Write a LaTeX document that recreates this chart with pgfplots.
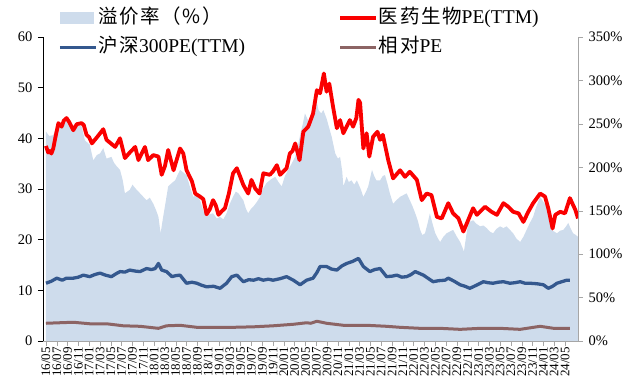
\documentclass[border=0pt]{standalone}
\usepackage{pgfplots}
\pgfplotsset{compat=1.18}
\usepackage{fontspec}
\setmainfont{Liberation Serif}
\newfontfamily\cjk[LetterSpace=8]{Noto Sans CJK SC}

\definecolor{premium}{RGB}{206,220,236}
\definecolor{medred}{RGB}{250,0,0}
\definecolor{hsblue}{RGB}{52,88,142}
\definecolor{relbrown}{RGB}{140,100,100}
\definecolor{axisgray}{RGB}{166,166,166}

\begin{document}
\begin{tikzpicture}
\path[use as bounding box] (-43bp,-44bp) rectangle (596bp,341bp);
\pgfplotsset{
  every axis/.append style={
    scale only axis, width=535bp, height=304bp,
    at={(0,0)}, anchor=south west,
    xmin=-0.55, xmax=98.4,
    tick align=outside, major tick length=5bp,
    clip=true,
  },
  legend block/.style={
    legend style={draw=none, fill=none, anchor=north west,
      at={(#1,1.102)}, legend cell align=left,
      font=\fontsize{19.5bp}{23bp}\selectfont,
      nodes={inner sep=1bp, text height=14bp, text depth=4bp},
      row sep=9bp},
  },
  line sample/.style={legend image code/.code={\draw[##1] (0bp,0bp) -- (36bp,0bp);}},
}

% premium rate, right-hand percentage axis
\begin{axis}[
  axis y line*=right, axis x line*=bottom,
  axis on top,
  ymin=0, ymax=350,
  ytick={0,50,...,350},
  yticklabels={0\%,50\%,100\%,150\%,200\%,250\%,300\%,350\%},
  yticklabel style={font=\fontsize{14.5bp}{16bp}\selectfont, xshift=2bp},
  xtick={0,2,...,96},
  xticklabels={16/05,16/07,16/09,16/11,17/01,17/03,17/05,17/07,17/09,17/11,18/01,18/03,18/05,18/07,18/09,18/11,19/01,19/03,19/05,19/07,19/09,19/11,20/01,20/03,20/05,20/07,20/09,20/11,21/01,21/03,21/05,21/07,21/09,21/11,22/01,22/03,22/05,22/07,22/09,22/11,23/01,23/03,23/05,23/07,23/09,23/11,24/01,24/03,24/05},
  xticklabel style={rotate=90, anchor=east, font=\fontsize{13bp}{14bp}\selectfont, inner sep=1bp},
  x axis line style={axisgray}, y axis line style={axisgray},
  every tick/.style={axisgray},
  legend block=0.0224,
]
\addplot[fill=premium, draw=none,
  legend image code/.code={\fill[premium] (0bp,-6bp) rectangle (34bp,6bp);}]
coordinates {
(0,241) (0.6,236) (1.35,237) (1.8,244) (2.3,249) (3.0,246) (3.8,254) (4.4,250) (5.05,245) (5.8,249) (6.6,247) (7.2,231)
(8.1,226) (8.75,208) (9.4,214) (10.0,216) (10.6,222) (11.2,210) (12.1,212) (12.6,205) (13.1,201) (13.7,197)
(14.2,185) (14.6,170) (15.5,174) (16.0,180) (16.5,176) (17.4,170) (18.0,166) (18.6,162) (19.2,165) (19.85,158)
(20.4,150) (20.8,143) (21.2,124) (21.6,140) (22.0,155) (22.6,178) (23.3,182) (23.9,185) (24.4,192) (24.8,197)
(25.4,194) (26.0,191) (26.6,178) (27.25,166) (27.9,168) (28.5,162) (29.1,150) (29.7,143) (30.3,146) (30.9,147)
(31.6,141) (32.2,143) (32.8,140) (33.4,147) (34.0,158) (34.6,166) (35.1,172) (35.6,170) (36.5,162) (37.0,152)
(37.4,147) (37.9,152) (38.4,155) (39.0,160) (39.6,166) (40.2,176) (40.8,182) (41.6,186) (42.4,189) (43.0,183)
(43.6,178) (44.2,190) (44.8,197) (45.5,205) (46.1,212) (46.6,225) (47.0,237) (47.5,250) (47.9,262) (48.4,255)
(48.8,252) (49.3,270) (49.8,283) (50.4,266) (50.9,262) (51.3,266) (51.9,256) (52.4,245) (52.85,235) (53.5,216)
(54.0,210) (54.4,212) (54.8,195) (55.0,178) (55.6,189) (56.0,183) (56.5,185) (57.0,180) (57.5,185) (58.2,175)
(58.7,166) (59.2,172) (59.6,178) (60.3,197) (60.7,190) (61.1,185) (61.8,185) (62.3,190) (62.7,191) (63.2,180)
(63.6,170) (64.2,158) (64.8,162) (65.5,166) (66.1,168) (66.7,170) (67.3,162) (67.8,155) (68.3,147) (68.8,138)
(69.2,128) (69.6,122) (70.1,124) (70.6,136) (71.0,147) (71.5,135) (72.0,124) (72.5,118) (72.9,114) (73.5,120)
(74.1,124) (74.7,126) (75.3,128) (76.0,120) (76.6,114) (77.0,108) (77.3,103) (77.7,120) (78.1,136) (78.6,138)
(79.0,139) (79.6,135) (80.3,132) (80.9,133) (81.5,130) (82.1,126) (82.7,124) (83.3,129) (84.0,132) (84.6,130)
(85.2,132) (85.8,128) (86.4,124) (87.0,118) (87.7,114) (88.3,120) (88.9,128) (89.5,136) (90.1,143) (90.7,155)
(91.4,166) (92.0,160) (92.6,155) (93.1,140) (93.5,128) (94.0,126) (94.5,124) (95.1,127) (95.7,128) (96.2,132)
(96.6,136) (97.0,130) (97.5,124) (98.0,122) (98.4,120)
} \closedcycle;
\addlegendentry{{\cjk 溢价率（\%）}}
\addlegendimage{line sample, hsblue, line width=3.3bp}
\addlegendentry{{\cjk 沪深}300PE(TTM)}
\end{axis}

% valuation lines, left-hand axis
\begin{axis}[
  axis y line*=left, axis x line=none,
  ymin=0, ymax=60,
  ytick={0,10,...,60},
  yticklabels={0,10,20,30,40,50,60},
  yticklabel style={font=\fontsize{14.5bp}{16bp}\selectfont, xshift=-2bp},
  y axis line style={black, line width=0.8bp},
  every tick/.style={black, line width=0.8bp},
  legend block=0.5458,
]
\addplot[medred, line width=3.8bp, line join=round, line sample] coordinates {
(0,38.5) (0.4,37.2) (0.7,37.5) (1.0,37.0) (1.35,38.0) (1.8,40.5) (2.3,43.0) (2.9,42.3) (3.3,43.5) (3.8,44.0)
(4.3,43.2) (5.05,41.6) (5.7,42.8) (6.6,43.0) (7.0,42.6) (7.5,40.7) (8.0,40.2) (8.5,39.0) (9.5,40.3) (10.6,41.8)
(11.2,39.7) (12.0,39.0) (12.8,38.3) (13.7,40.0) (14.6,36.1) (15.5,37.2) (16.5,38.3) (17.1,35.7) (18.3,38.3)
(18.9,35.7) (19.85,36.7) (20.8,36.4) (21.4,32.8) (22.0,34.5) (22.6,37.7) (23.6,33.7) (24.8,38.0) (25.4,37.0)
(26.0,33.7) (27.0,31.5) (27.6,29.1) (28.5,28.5) (29.1,28.0) (29.7,25.0) (30.3,26.0) (30.9,27.8) (31.4,26.8)
(31.9,24.9) (32.5,25.6) (33.1,26.2) (33.8,29.0) (34.6,33.1) (35.3,34.1) (35.9,32.5) (36.5,30.8) (37.4,29.1)
(38.0,31.8) (38.7,30.1) (39.5,29.1) (40.2,33.1) (41.4,32.8) (42.0,33.5) (42.7,34.7) (43.3,32.8) (44.5,34.1)
(45.1,37.0) (45.6,37.5) (46.1,39.0) (46.9,35.7) (47.6,41.3) (48.5,42.3) (49.4,44.9) (50.1,49.5) (50.7,48.9)
(51.4,52.8) (51.9,49.2) (52.4,50.8) (53.1,46.2) (53.8,42.0) (54.4,43.6) (55.0,41.0) (56.2,43.6) (56.8,42.3)
(57.4,44.0) (57.8,47.6) (58.1,47.0) (58.7,38.0) (59.3,41.0) (59.8,36.4) (60.5,40.3) (61.3,41.3) (61.8,39.7)
(62.3,40.7) (62.9,37.7) (63.3,35.7) (64.2,32.1) (65.5,33.7) (66.4,32.4) (67.3,33.4) (68.6,31.8) (69.5,27.8)
(70.4,29.1) (71.3,28.8) (72.3,24.5) (73.2,24.2) (74.4,27.2) (75.3,25.2) (76.3,24.2) (77.2,21.6) (78.1,23.9)
(79.0,26.2) (79.7,24.9) (81.2,26.5) (82.4,25.5) (83.4,24.9) (84.6,27.2) (85.5,26.5) (86.4,25.5) (87.4,25.2)
(88.3,23.5) (89.2,25.5) (90.1,27.2) (91.4,29.1) (92.3,28.5) (92.9,26.2) (93.7,22.2) (94.2,24.9) (95.1,25.5)
(96.0,25.2) (96.9,28.2) (97.9,25.9) (98.4,24.2)
};
\addlegendentry{{\cjk 医药生物}PE(TTM)}
\addplot[hsblue, line width=3.3bp, line join=round, forget plot] coordinates {
(0,11.4) (1.0,11.8) (2.0,12.4) (3.0,12.0) (3.8,12.4) (5.05,12.4) (6.0,12.6) (6.9,13.0) (8.1,12.7) (9.0,13.1)
(10.0,13.4) (11.0,13.0) (12.1,12.7) (13.0,13.3) (13.7,13.7) (14.6,13.6) (15.5,14.0) (16.5,13.8) (17.4,13.7)
(18.6,14.3) (19.5,14.1) (20.2,14.3) (20.8,15.3) (21.4,14.0) (22.3,13.7) (23.3,12.7) (24.0,12.9) (24.8,13.0)
(25.4,12.2) (26.0,11.4) (27.0,11.6) (27.9,11.4) (28.8,11.0) (29.7,10.7) (31.0,10.8) (32.2,10.4) (33.4,11.4)
(34.35,12.7) (35.3,13.0) (36.5,11.7) (37.5,12.1) (38.4,12.0) (39.3,12.3) (40.2,12.0) (41.1,12.2) (42.0,12.0)
(43.3,12.3) (44.5,12.7) (45.75,12.0) (47.0,11.1) (48.2,12.0) (49.4,12.4) (50.1,13.5) (50.7,14.7) (51.9,14.7)
(52.8,14.2) (53.8,14.0) (54.7,14.8) (55.6,15.3) (56.7,15.7) (57.8,16.3) (58.7,14.7) (59.9,13.7) (60.8,14.1)
(61.8,14.3) (63.0,12.7) (64.0,12.8) (64.9,13.0) (65.8,12.6) (66.7,12.7) (67.5,13.1) (68.3,13.7) (69.8,13.0)
(71.6,11.7) (72.6,11.9) (73.8,12.0) (74.4,12.4) (75.5,11.8) (76.6,11.1) (77.5,10.8) (78.4,10.4) (79.6,11.0)
(80.9,11.7) (81.8,11.5) (82.7,11.4) (83.6,11.6) (84.6,11.7) (85.8,11.4) (86.7,11.5) (87.7,11.7) (88.6,11.4)
(89.5,11.4) (90.8,11.3) (92.0,11.1) (92.9,10.4) (93.7,10.8) (94.5,11.4) (95.4,11.7) (96.3,12.0) (96.9,12.0)
};
\addplot[relbrown, line width=3bp, line join=round, line sample] coordinates {
(0,3.5) (2.5,3.6) (5.05,3.7) (8.1,3.4) (11.2,3.4) (14.3,3.0) (17.4,2.9) (20.8,2.5) (22.3,3.0) (24.8,3.1)
(27.9,2.7) (30.9,2.7) (34.6,2.7) (38.4,2.8) (42.0,3.0) (45.75,3.3) (48.2,3.6) (49.0,3.5) (50.1,3.9) (51.9,3.5)
(55.0,3.1) (59.3,3.1) (63.0,2.9) (65.5,2.7) (69.2,2.5) (72.9,2.5) (76.6,2.3) (80.3,2.5) (84.0,2.5) (87.7,2.3)
(91.4,2.9) (93.9,2.5) (96.9,2.5)
};
\addlegendentry{{\cjk 相对}PE}
\end{axis}
\end{tikzpicture}
\end{document}
